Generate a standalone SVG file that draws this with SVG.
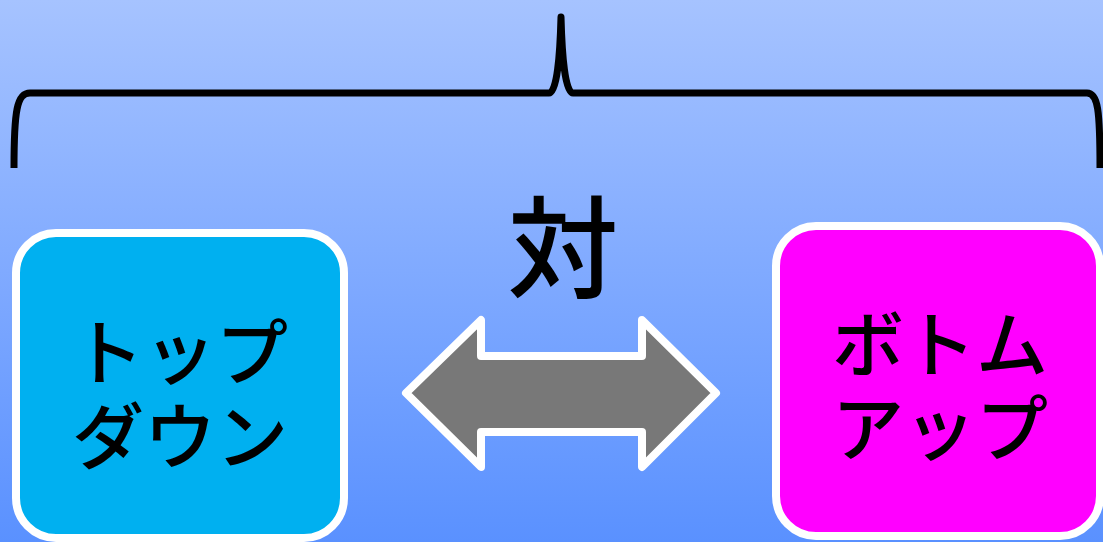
<svg xmlns="http://www.w3.org/2000/svg" width="1103" height="542" viewBox="0 0 1103 542">
  <defs>
    <linearGradient id="bg" x1="0" y1="0" x2="0" y2="1">
      <stop offset="0" stop-color="#a6c3ff"/>
      <stop offset="1" stop-color="#5a91ff"/>
    </linearGradient>
    <style>
      .box { stroke: #ffffff; stroke-width: 8; }
      .lbl { font-family: "Noto Sans CJK JP", "Noto Sans CJK SC", sans-serif; font-size: 72px; font-weight: 500; fill: #000000; text-anchor: middle; }
    </style>
  </defs>
  <rect x="0" y="0" width="1103" height="542" fill="url(#bg)"/>
  <g id="brace">
    <path d="M14,168 C14,110 17,93 30,93 L549,93 C557,93 560,55 561,17 C562,55 565,93 573,93 L1087,93 C1098,93 1100,110 1100,168" fill="none" stroke="#000000" stroke-width="7" stroke-linejoin="round"/>
  </g>
  <g id="label-vs">
    <text x="563" y="290" font-family="Noto Sans CJK JP, Noto Sans CJK SC, sans-serif" font-size="111" font-weight="500" text-anchor="middle" fill="#000000">対</text>
  </g>
  <g id="node-topdown">
    <rect class="box" x="16" y="233" width="328" height="305" rx="40" ry="40" fill="#00b0f0"/>
    <text class="lbl" x="180" y="379">トップ</text>
    <text class="lbl" x="180" y="463">ダウン</text>
  </g>
  <g id="node-bottomup">
    <rect class="box" x="776" y="226" width="324" height="310" rx="40" ry="40" fill="#ff00ff"/>
    <text class="lbl" x="940" y="371">ボトム</text>
    <text class="lbl" x="940" y="455">アップ</text>
  </g>
  <g id="connectors">
    <polygon points="406,393 481,320 481,356 642,356 642,320 716,393 642,467 642,432 481,432 481,467" fill="#787878" stroke="#ffffff" stroke-width="8" stroke-linejoin="round"/>
  </g>
</svg>
